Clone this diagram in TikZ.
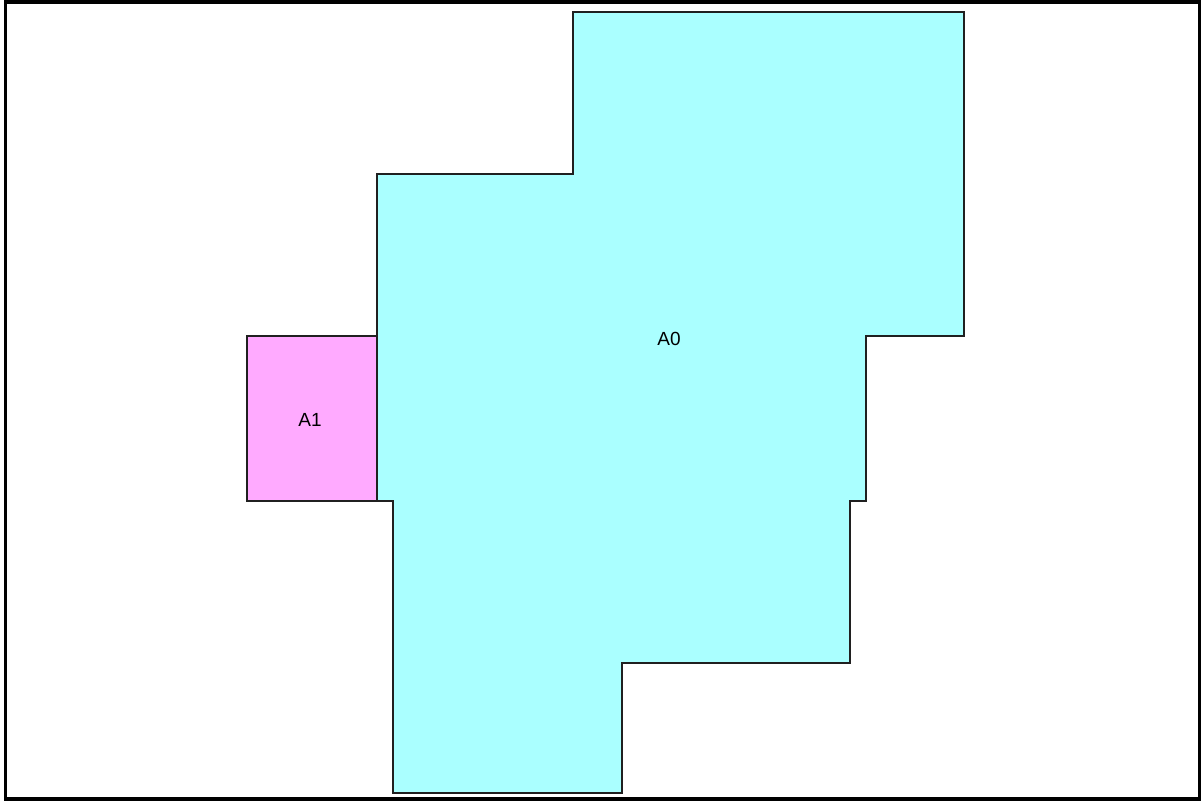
\documentclass[tikz,border=0pt]{standalone}
\usepackage{fontspec}
\setmainfont{Liberation Sans}
\definecolor{zonecyan}{HTML}{AAFFFF}
\definecolor{zonepink}{HTML}{FFAAFF}
\definecolor{edgegray}{HTML}{202020}
\begin{document}
\begin{tikzpicture}[x=1pt,y=-1pt,
  zone/.style={draw=edgegray,line width=1.5pt,line join=miter},
  zlabel/.style={font=\fontsize{19}{22}\selectfont,text=black,inner sep=0pt}]
\useasboundingbox (0,0) rectangle (1201,801);
\fill[white] (0,0) rectangle (1201,801);
% A0
\filldraw[zone,fill=zonecyan]
  (573,12) -- (964,12) -- (964,336) -- (866,336) -- (866,501) -- (850,501)
  -- (850,663) -- (622,663) -- (622,793) -- (393,793) -- (393,501)
  -- (377,501) -- (377,174) -- (573,174) -- cycle;
% A1
\filldraw[zone,fill=zonepink]
  (247,336) -- (377,336) -- (377,501) -- (247,501) -- cycle;
\node[zlabel] (a0) at (669,339) {A0};
\node[zlabel] (a1) at (310,420) {A1};
% frame
\draw[black,line width=3.5pt] (5.5,2) rectangle (1199.5,799);
\end{tikzpicture}
\end{document}
